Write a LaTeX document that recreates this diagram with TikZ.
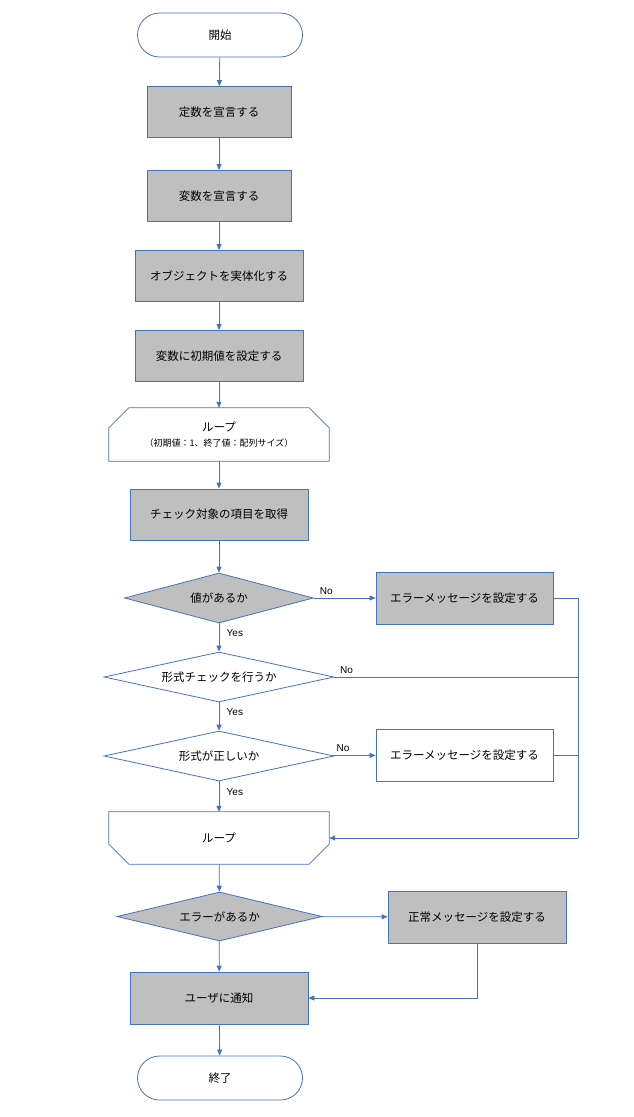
\documentclass[tikz,border=0pt]{standalone}
\usepackage{fontspec}
\setmainfont{Noto Sans CJK JP}
\newfontfamily\lat{Liberation Sans}
\usetikzlibrary{shapes.geometric,arrows.meta}
\definecolor{ln}{HTML}{4472C4}
\definecolor{gr}{HTML}{BFBFBF}
\begin{document}
\begin{tikzpicture}[x=1pt,y=-1pt,font=\fontsize{11.5}{14}\selectfont,
  line/.style={draw=ln,line width=0.8pt},
  arr/.style={line,-{Triangle[length=6pt,width=5pt]}},
  term/.style={draw=ln,line width=0.8pt,rounded corners=22pt,minimum width=165pt,minimum height=44pt,fill=white},
  proc/.style={draw=ln,line width=0.8pt,fill=gr,minimum height=51pt},
  wproc/.style={proc,fill=white},
  dec/.style={draw=ln,line width=0.8pt,diamond,aspect=3.8,inner sep=0pt,fill=gr},
  wdec/.style={dec,fill=white},
  lbl/.style={font=\lat\fontsize{10}{12}\selectfont}]
\useasboundingbox (0,0) rectangle (633,1117);
\node[term] (start) at (220,35) {開始};
\node[proc,minimum width=144pt] (c1) at (219,112) {定数を宣言する};
\node[proc,minimum width=144pt] (c2) at (219,196) {変数を宣言する};
\node[proc,minimum width=168pt] (c3) at (219,276) {オブジェクトを実体化する};
\node[proc,minimum width=168pt] (c4) at (219,356) {変数に初期値を設定する};
% loop start
\node[minimum width=220pt,minimum height=53pt,align=center,inner sep=0pt] (ls) at (219,434.5) {ループ\\[1pt]{\fontsize{9}{11}\selectfont （初期値：1、終了値：配列サイズ）}};
\draw[line] (ls.south west) -- ([yshift=-20pt]ls.north west) -- ([xshift=20pt]ls.north west) -- ([xshift=-20pt]ls.north east) -- ([yshift=-20pt]ls.north east) -- (ls.south east) -- cycle;
\node[proc,minimum width=178pt] (c5) at (219,514.5) {チェック対象の項目を取得};
\node[dec,minimum width=189pt,minimum height=50pt] (d1) at (219,598) {値があるか};
\node[proc,minimum width=177pt,minimum height=52pt] (e1) at (464.5,598) {エラーメッセージを設定する};
\node[wdec,minimum width=230pt,minimum height=50pt] (d2) at (219,677) {形式チェックを行うか};
\node[wdec,minimum width=230pt,minimum height=50pt] (d3) at (219,756) {形式が正しいか};
\node[wproc,minimum width=177pt,minimum height=52pt] (e2) at (464.5,755) {エラーメッセージを設定する};
% loop end
\node[minimum width=220pt,minimum height=52pt,inner sep=0pt] (le) at (219,838) {ループ};
\draw[line] (le.north west) -- ([yshift=20pt]le.south west) -- ([xshift=20pt]le.south west) -- ([xshift=-20pt]le.south east) -- ([yshift=20pt]le.south east) -- (le.north east) -- cycle;
\node[dec,minimum width=205pt,minimum height=49pt] (d4) at (219.5,916.5) {エラーがあるか};
\node[proc,minimum width=178pt,minimum height=52pt] (n1) at (477,917) {正常メッセージを設定する};
\node[proc,minimum width=178pt,minimum height=52pt] (u) at (219,998) {ユーザに通知};
\node[term] (end) at (220,1078) {終了};
\coordinate (rt) at (578,838);
\draw[arr] (start) -- (c1);
\draw[arr] (c1) -- (c2);
\draw[arr] (c2) -- (c3);
\draw[arr] (c3) -- (c4);
\draw[arr] (c4) -- (ls);
\draw[arr] (ls) -- (c5);
\draw[arr] (c5) -- (d1);
\draw[arr] (d1) -- node[lbl,above,pos=0.2]{No} (e1);
\draw[arr] (d1) -- node[lbl,right,pos=0.35,xshift=4pt]{Yes} (d2);
\draw[arr] (d2) -- node[lbl,right,pos=0.35,xshift=4pt]{Yes} (d3);
\draw[arr] (d3) -- node[lbl,above,pos=0.25]{No} (e2);
\draw[arr] (d3) -- node[lbl,right,pos=0.35,xshift=4pt]{Yes} (le);
\draw[line] (e1.east) -- (e1.east -| rt) -- (rt);
\draw[arr] (rt) -- (le.east);
\draw[line] (d2.east) -- node[lbl,above,pos=0.05]{No} (d2.east -| rt);
\draw[line] (e2.east) -- (e2.east -| rt);
\draw[arr] (le) -- (d4);
\draw[arr] (d4) -- (n1);
\draw[arr] (d4) -- (u);
\draw[arr] (n1.south) |- (u.east);
\draw[arr] (u) -- (end);
\end{tikzpicture}
\end{document}
